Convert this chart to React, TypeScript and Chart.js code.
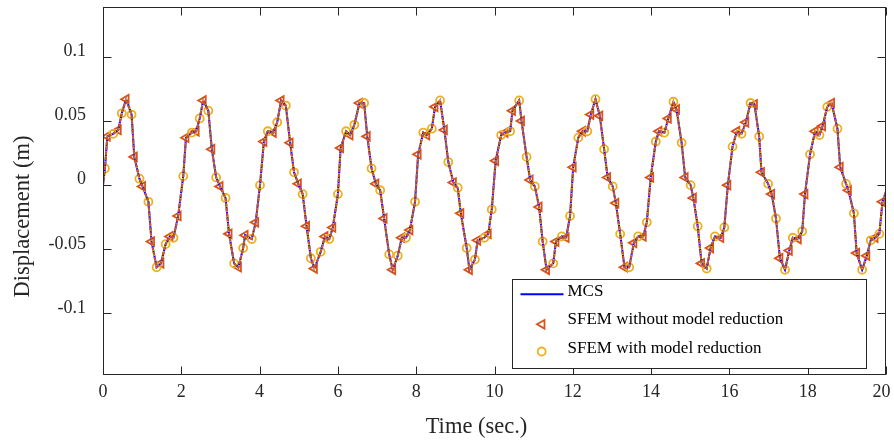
import React, { useEffect, useRef } from "react";
import { Chart, registerables } from "chart.js";

Chart.register(...registerables);

// ---- data ----
const timeTri = [
  0.11, 0.39, 0.59, 0.8, 1.01, 1.24, 1.48, 1.71, 1.92, 2.12, 2.38, 2.56, 2.78, 2.99, 3.22, 3.46, 3.63, 3.9,
  4.11, 4.35, 4.55, 4.78, 4.99, 5.2, 5.4, 5.67, 5.87, 6.07, 6.31, 6.55, 6.75, 6.97, 7.18, 7.4, 7.63, 7.84,
  8.05, 8.27, 8.48, 8.72, 8.95, 9.14, 9.36, 9.57, 9.84, 10.03, 10.27, 10.46, 10.69, 10.91, 11.14, 11.33,
  11.57, 11.83, 12.01, 12.25, 12.46, 12.69, 12.89, 13.1, 13.32, 13.56, 13.8, 13.99, 14.2, 14.44, 14.65,
  14.87, 15.08, 15.29, 15.52, 15.78, 15.96, 16.19, 16.42, 16.64, 16.82, 17.08, 17.29, 17.53, 17.76, 17.93,
  18.19, 18.38, 18.61, 18.83, 19.04, 19.25, 19.51, 19.72, 19.91,
];
const dispTri = [
  0.038, 0.043, 0.067, 0.022, -0.001, -0.044, -0.061, -0.04, -0.024, 0.037, 0.042, 0.066, 0.028, -0.001,
  -0.038, -0.064, -0.039, -0.029, 0.034, 0.041, 0.066, 0.033, 0.001, -0.032, -0.065, -0.04, -0.033, 0.029,
  0.039, 0.064, 0.038, 0.001, -0.026, -0.066, -0.041, -0.035, 0.024, 0.039, 0.061, 0.043, 0.002, -0.022,
  -0.066, -0.043, -0.038, 0.019, 0.041, 0.058, 0.05, 0.004, -0.017, -0.066, -0.044, -0.041, 0.014, 0.042,
  0.055, 0.054, 0.006, -0.014, -0.064, -0.045, -0.04, 0.006, 0.042, 0.052, 0.059, 0.006, -0.01, -0.061,
  -0.049, -0.041, 0.0, 0.042, 0.049, 0.063, 0.01, -0.007, -0.057, -0.051, -0.042, -0.007, 0.042, 0.046,
  0.064, 0.014, -0.004, -0.053, -0.055, -0.041, -0.013,
];
const timeCirc = [
  0.05, 0.26, 0.48, 0.73, 0.93, 1.16, 1.37, 1.6, 1.8, 2.05, 2.27, 2.47, 2.69, 2.89, 3.13, 3.35, 3.58, 3.8,
  4.01, 4.21, 4.45, 4.67, 4.88, 5.1, 5.31, 5.56, 5.78, 6.0, 6.21, 6.42, 6.67, 6.86, 7.08, 7.31, 7.53, 7.74,
  7.97, 8.18, 8.4, 8.61, 8.82, 9.06, 9.29, 9.5, 9.74, 9.93, 10.17, 10.4, 10.63, 10.82, 11.03, 11.23, 11.5,
  11.72, 11.93, 12.14, 12.37, 12.58, 12.8, 13.02, 13.21, 13.44, 13.67, 13.89, 14.12, 14.34, 14.57, 14.78,
  15.01, 15.19, 15.42, 15.63, 15.87, 16.08, 16.31, 16.54, 16.76, 16.99, 17.19, 17.42, 17.62, 17.86, 18.06,
  18.3, 18.5, 18.76, 18.98, 19.18, 19.39, 19.61, 19.83,
];
const dispCirc = [
  0.013, 0.04, 0.056, 0.055, 0.005, -0.013, -0.064, -0.046, -0.041, 0.007, 0.041, 0.052, 0.058, 0.006,
  -0.01, -0.061, -0.049, -0.042, 0.0, 0.042, 0.049, 0.062, 0.01, -0.007, -0.057, -0.052, -0.042, -0.007,
  0.042, 0.047, 0.064, 0.013, -0.004, -0.054, -0.055, -0.041, -0.013, 0.041, 0.044, 0.066, 0.018, -0.002,
  -0.049, -0.058, -0.041, -0.019, 0.039, 0.042, 0.066, 0.022, -0.001, -0.044, -0.061, -0.04, -0.024, 0.037,
  0.042, 0.067, 0.028, -0.001, -0.038, -0.064, -0.04, -0.029, 0.034, 0.041, 0.065, 0.033, 0.0, -0.032,
  -0.065, -0.04, -0.033, 0.03, 0.04, 0.064, 0.038, 0.001, -0.026, -0.066, -0.041, -0.036, 0.024, 0.039,
  0.061, 0.044, 0.001, -0.022, -0.066, -0.043, -0.038,
];
// MCS end points (the MCS curve runs through all sample points)
const mcsEndTimes = [0, 20];
const mcsEndDisps = [0.0, -0.005];

const xTicks = [0, 2, 4, 6, 8, 10, 12, 14, 16, 18, 20];
const xTickLabels = ["0", "2", "4", "6", "8", "10", "12", "14", "16", "18", "20\u2002"];
const yTicks = [-0.1, -0.05, 0, 0.05, 0.1];
const yTickLabels = ["-0.1", "-0.05", "0", "0.05", "0.1"];
const xRange = [0, 20];
const yRange = [-0.148, 0.139];

const seriesNames = ["MCS", "SFEM without model reduction", "SFEM with model reduction"];
const xTitle = "Time (sec.)";
const yTitle = "Displacement (m)";

// ---- styles ----
const BLUE = "#0000FF";
const ORANGE = "#D95319";
const YELLOW = "#EDB120";
const AXIS = "#262626";
const SERIF = '"Liberation Serif", "Times New Roman", serif';

function drawTri(ctx: CanvasRenderingContext2D, cx: number, cy: number, r: number) {
  ctx.beginPath();
  ctx.moveTo(cx - r, cy);
  ctx.lineTo(cx + r / 2, cy - r * 0.866);
  ctx.lineTo(cx + r / 2, cy + r * 0.866);
  ctx.closePath();
  ctx.stroke();
}

const decor = {
  id: "decor",
  afterDatasetsDraw(chart: any) {
    const { ctx, chartArea: a, scales } = chart;
    ctx.save();
    // box + inward ticks
    ctx.strokeStyle = AXIS;
    ctx.lineWidth = 1;
    const L = Math.round(a.left) + 0.5;
    const R = Math.round(a.right) - 0.5;
    const T = Math.round(a.top) + 0.5;
    const B = Math.round(a.bottom) - 0.5;
    ctx.strokeRect(L, T, R - L, B - T);
    ctx.beginPath();
    for (const v of xTicks) {
      const px = Math.round(scales.x.getPixelForValue(v)) + 0.5;
      ctx.moveTo(px, B);
      ctx.lineTo(px, B - 8);
      ctx.moveTo(px, T);
      ctx.lineTo(px, T + 8);
    }
    for (const v of yTicks) {
      const py = Math.round(scales.y.getPixelForValue(v)) + 0.5;
      ctx.moveTo(L, py);
      ctx.lineTo(L + 8, py);
      ctx.moveTo(R, py);
      ctx.lineTo(R - 8, py);
    }
    ctx.stroke();

    // axis titles
    ctx.fillStyle = AXIS;
    ctx.font = `22.5px ${SERIF}`;
    ctx.textAlign = "center";
    ctx.textBaseline = "alphabetic";
    ctx.fillText(xTitle, 476.5, 433);
    ctx.save();
    ctx.translate(28.5, 216.5);
    ctx.rotate(-Math.PI / 2);
    ctx.fillText(yTitle, 0, 0);
    ctx.restore();

    // legend
    const lx = 512.5, ly = 279.5, lw = 354, lh = 89;
    ctx.fillStyle = "#FFFFFF";
    ctx.fillRect(lx, ly, lw, lh);
    ctx.strokeStyle = AXIS;
    ctx.lineWidth = 1;
    ctx.strokeRect(lx, ly, lw, lh);

    ctx.strokeStyle = BLUE;
    ctx.lineWidth = 2;
    ctx.beginPath();
    ctx.moveTo(520.5, 294.3);
    ctx.lineTo(563.5, 294.3);
    ctx.stroke();

    ctx.strokeStyle = ORANGE;
    ctx.lineWidth = 1.8;
    drawTri(ctx, 542, 324.3, 5);

    ctx.strokeStyle = YELLOW;
    ctx.beginPath();
    ctx.arc(541.7, 351.5, 4, 0, Math.PI * 2);
    ctx.stroke();

    ctx.fillStyle = "#000000";
    ctx.font = `17px ${SERIF}`;
    ctx.textAlign = "left";
    ctx.textBaseline = "alphabetic";
    ctx.fillText(seriesNames[0], 567.5, 296);
    ctx.fillText(seriesNames[1], 567.5, 323.5);
    ctx.fillText(seriesNames[2], 567.5, 352.5);
    ctx.restore();
  },
};

export default function App() {
  const ref = useRef<HTMLCanvasElement>(null);
  useEffect(() => {
    document.body.style.margin = "0";
    const canvas = ref.current!;
    const tri = timeTri.map((t, i) => ({ x: t, y: dispTri[i] }));
    const circ = timeCirc.map((t, i) => ({ x: t, y: dispCirc[i] }));
    const ends = mcsEndTimes.map((t, i) => ({ x: t, y: mcsEndDisps[i] }));
    const mcs = [...ends, ...tri, ...circ].sort((p, q) => p.x - q.x);

    const chart = new Chart(canvas, {
      type: "scatter",
      data: {
        datasets: [
          {
            label: "overlay-yellow",
            data: mcs,
            showLine: true,
            pointRadius: 0,
            borderColor: YELLOW,
            borderWidth: 2,
            borderDash: [1, 4],
            borderDashOffset: 2,
            order: 0,
          } as any,
          {
            label: "overlay-orange",
            data: mcs,
            showLine: true,
            pointRadius: 0,
            borderColor: ORANGE,
            borderWidth: 2,
            borderDash: [3, 2],
            order: 1,
          },
          {
            label: seriesNames[0],
            data: mcs,
            showLine: true,
            pointRadius: 0,
            borderColor: BLUE,
            borderWidth: 2,
            order: 2,
          },
          {
            label: seriesNames[2],
            data: circ,
            showLine: false,
            pointStyle: "circle",
            pointRadius: 4,
            pointBorderWidth: 1.8,
            borderColor: YELLOW,
            pointBorderColor: YELLOW,
            pointBackgroundColor: "rgba(0,0,0,0)",
            backgroundColor: "rgba(0,0,0,0)",
            order: 3,
          },
          {
            label: seriesNames[1],
            data: tri,
            showLine: false,
            pointStyle: "triangle",
            rotation: -90,
            pointRadius: 5,
            pointBorderWidth: 1.8,
            borderColor: ORANGE,
            pointBorderColor: ORANGE,
            pointBackgroundColor: "rgba(0,0,0,0)",
            backgroundColor: "rgba(0,0,0,0)",
            order: 4,
          },
        ],
      },
      options: {
        responsive: false,
        animation: false,
        devicePixelRatio: 1,
        events: [],
        layout: { padding: { top: 4, right: 8, left: 0, bottom: 0 } },
        plugins: { legend: { display: false }, tooltip: { enabled: false } },
        scales: {
          x: {
            type: "linear",
            min: xRange[0],
            max: xRange[1],
            grid: { display: false, drawTicks: false },
            border: { display: false },
            afterBuildTicks: (s: any) => {
              s.ticks = xTicks.map((v) => ({ value: v }));
            },
            afterFit: (s: any) => {
              s.height = 70;
              s.paddingLeft = 0;
              s.paddingRight = 0;
              s.paddingTop = 0;
              s.paddingBottom = 0;
            },
            ticks: {
              padding: 6,
              color: AXIS,
              font: { family: SERIF, size: 18 },
              maxRotation: 0,
              autoSkip: false,
              callback: (v: any) => {
                const i = xTicks.findIndex((t) => Math.abs(t - v) < 1e-9);
                return i >= 0 ? xTickLabels[i] : "";
              },
            },
          },
          y: {
            type: "linear",
            min: yRange[0],
            max: yRange[1],
            grid: { display: false, drawTicks: false },
            border: { display: false },
            afterBuildTicks: (s: any) => {
              s.ticks = yTicks.map((v) => ({ value: v }));
            },
            afterFit: (s: any) => {
              s.width = 103;
              s.paddingLeft = 0;
              s.paddingRight = 0;
              s.paddingTop = 0;
              s.paddingBottom = 0;
            },
            ticks: {
              padding: 17,
              labelOffset: -5.5,
              color: AXIS,
              font: { family: SERIF, size: 18 },
              autoSkip: false,
              callback: (v: any) => {
                const i = yTicks.findIndex((t) => Math.abs(t - v) < 1e-9);
                return i >= 0 ? yTickLabels[i] : "";
              },
            },
          },
        },
      },
      plugins: [decor],
    });
    return () => chart.destroy();
  }, []);
  return (
    <div style={{ width: 894, height: 445 }}>
      <canvas ref={ref} width={894} height={445} style={{ display: "block" }} />
    </div>
  );
}
